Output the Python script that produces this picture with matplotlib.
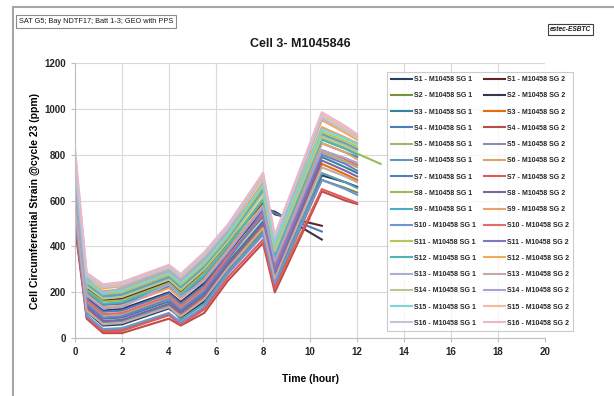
import numpy as np
import matplotlib
matplotlib.use('Agg')
import matplotlib.pyplot as plt
from matplotlib.lines import Line2D

plt.rcParams['font.family'] = ['Liberation Sans', 'DejaVu Sans']

# time points (hour)
hours = [0, 0.5, 1.2, 2, 4, 4.5, 5.5, 6.5, 8, 8.5, 10.5, 11.5, 12, 13]
nan = np.nan

# strain values, one row per series, order: S1 SG1, S1 SG2, S2 SG1, S2 SG2, ...
strain = [
    [530, 115, 55, 60, 130, 90, 160, 300, 500, 250, 710, 680, 660, nan],
    [720, 220, 165, 172, 248, 202, 290, 415, 590, 540, 490, nan, nan, nan],
    [500, 100, 35, 38, 105, 70, 130, 290, 470, 225, 690, 655, 635, nan],
    [630, 180, 120, 128, 200, 158, 240, 370, 560, 552, 430, nan, nan, nan],
    [620, 145, 85, 90, 160, 118, 195, 330, 510, 285, 790, 745, 720, nan],
    [600, 130, 70, 75, 145, 100, 175, 315, 490, 270, 760, 715, 690, nan],
    [690, 200, 145, 150, 225, 180, 265, 390, 575, 545, 465, nan, nan, nan],
    [490, 85, 22, 22, 85, 55, 110, 250, 415, 200, 640, 600, 585, nan],
    [640, 160, 100, 105, 178, 135, 215, 345, 530, 300, 810, 770, 745, nan],
    [730, 238, 185, 193, 270, 225, 315, 435, 650, 395, 890, 850, 825, nan],
    [560, 110, 70, 75, 140, 80, 150, 290, 460, 235, 720, 680, 655, nan],
    [780, 255, 205, 213, 290, 247, 338, 457, 680, 415, 920, 875, 850, nan],
    [650, 170, 115, 120, 195, 150, 230, 360, 530, 320, 850, 810, 790, nan],
    [520, 92, 30, 32, 100, 60, 125, 265, 430, 215, 650, 610, 590, nan],
    [700, 210, 160, 165, 240, 195, 285, 405, 610, 365, 870, 830, 805, 760],
    [570, 135, 75, 80, 150, 110, 185, 320, 500, 275, 775, 730, 705, nan],
    [740, 230, 180, 187, 262, 218, 308, 428, 640, 385, 885, 845, 820, nan],
    [660, 190, 135, 142, 218, 172, 258, 385, 580, 340, 850, 810, 780, nan],
    [540, 98, 40, 44, 110, 68, 138, 280, 450, 240, 690, 650, 625, nan],
    [600, 165, 105, 110, 185, 140, 220, 355, 540, 310, 820, 780, 755, nan],
    [760, 245, 192, 200, 276, 232, 322, 442, 660, 400, 900, 860, 835, nan],
    [700, 150, 90, 96, 170, 125, 205, 340, 555, 295, 800, 760, 730, nan],
    [680, 205, 150, 157, 232, 188, 275, 400, 600, 355, 865, 825, 800, nan],
    [800, 268, 217, 226, 302, 260, 352, 472, 700, 430, 950, 895, 865, nan],
    [770, 262, 190, 220, 296, 254, 345, 465, 720, 425, 960, 905, 880, nan],
    [580, 120, 60, 66, 135, 95, 170, 305, 480, 260, 745, 705, 680, nan],
    [710, 225, 172, 180, 255, 210, 300, 420, 630, 380, 880, 840, 815, nan],
    [670, 185, 130, 135, 235, 180, 250, 375, 570, 335, 820, 785, 765, nan],
    [750, 250, 198, 207, 283, 240, 330, 450, 670, 410, 910, 870, 845, nan],
    [820, 278, 228, 238, 314, 272, 367, 487, 712, 445, 975, 915, 880, nan],
    [790, 272, 222, 232, 308, 266, 360, 480, 705, 438, 965, 905, 875, nan],
    [830, 285, 235, 245, 320, 280, 375, 495, 720, 450, 985, 925, 890, nan],
]

labels = []
for s in range(1, 17):
    labels.append('S%d - M10458 SG 1' % s)
    labels.append('S%d - M10458 SG 2' % s)

colors = ['#254061', '#632523', '#76923C', '#403151', '#31859C', '#E46C0A',
          '#4A7EBB', '#BE4B48', '#A3B56C', '#8E8CB0', '#5C9BB0', '#D9A46D',
          '#4F81BD', '#E05A5A', '#9BBB59', '#8064A2', '#4BACC6', '#E9A36A',
          '#6F94D6', '#E46B6B', '#B3C75A', '#7B79C4', '#4FB3B8', '#F4A960',
          '#A9B0CF', '#C4A8A6', '#BAC596', '#A9A3D1', '#7DD5D6', '#F9B9A0',
          '#BFC6D6', '#E8B8CC']

fig = plt.figure(figsize=(6.14, 3.96), dpi=100)
ax = fig.add_axes([0.122, 0.146, 0.766, 0.695])

handles = []
for i in range(32):
    ln, = ax.plot(hours, strain[i], color=colors[i], lw=1.5, label=labels[i])
    handles.append(ln)

ax.set_xlim(0, 20)
ax.set_ylim(0, 1200)
ax.set_xticks(range(0, 21, 2))
ax.set_yticks(range(0, 1201, 200))
ax.grid(True, color='#D9D9D9', lw=0.8)
ax.set_axisbelow(True)
for side in ['top', 'right']:
    ax.spines[side].set_visible(False)
for side in ['left', 'bottom']:
    ax.spines[side].set_color('#BFBFBF')
ax.tick_params(colors='#BFBFBF', labelcolor='#262626', labelsize=7, length=3)
for lbl in ax.get_xticklabels() + ax.get_yticklabels():
    lbl.set_fontweight('bold')

ax.set_xlabel('Time (hour)', fontsize=7.5, fontweight='bold', labelpad=12)
ax.set_ylabel('Cell Circumferential Strain @cycle 23 (ppm)', fontsize=7.5,
              fontweight='bold', labelpad=3)

# legend: column 1 = SG 1, column 2 = SG 2
order = list(range(0, 32, 2)) + list(range(1, 32, 2))
leg = ax.legend([handles[i] for i in order], [labels[i] for i in order],
                ncol=2, fontsize=5, loc='upper left',
                bbox_to_anchor=(0.664, 0.018, 0.396, 0.949), mode='expand',
                labelspacing=1.33, handlelength=3.0, handletextpad=0.3,
                columnspacing=0.8, borderaxespad=0, fancybox=False,
                frameon=True, edgecolor='#BFBFBF', borderpad=0.6)
leg.get_frame().set_linewidth(0.8)
for t in leg.get_texts():
    t.set_fontweight('bold')
    t.set_color('#262626')

fig.text(0.489, 0.89, 'Cell 3- M1045846', fontsize=9, fontweight='bold',
         ha='center', va='center', color='#1a1a1a')

fig.text(0.031, 0.945, 'SAT G5; Bay NDTF17; Batt 1-3; GEO with PPS', fontsize=5.3,
         ha='left', va='center', color='#1a1a1a',
         bbox=dict(boxstyle='square,pad=0.4', fc='white', ec='#8C8C8C', lw=0.8))
fig.text(0.896, 0.925, 'estec-ESBTC', fontsize=4.8, style='italic', fontweight='bold',
         ha='left', va='center', color='#1a1a1a',
         bbox=dict(boxstyle='square,pad=0.3', fc='white', ec='#404040', lw=0.8))

# chart area border
fig.add_artist(Line2D([0.021, 0.021], [0, 0.982], transform=fig.transFigure,
                      color='#A6A6A6', lw=1.5))
fig.add_artist(Line2D([0.021, 1.0], [0.982, 0.982], transform=fig.transFigure,
                      color='#A6A6A6', lw=1.5))

fig.savefig('out.png', dpi=100)
